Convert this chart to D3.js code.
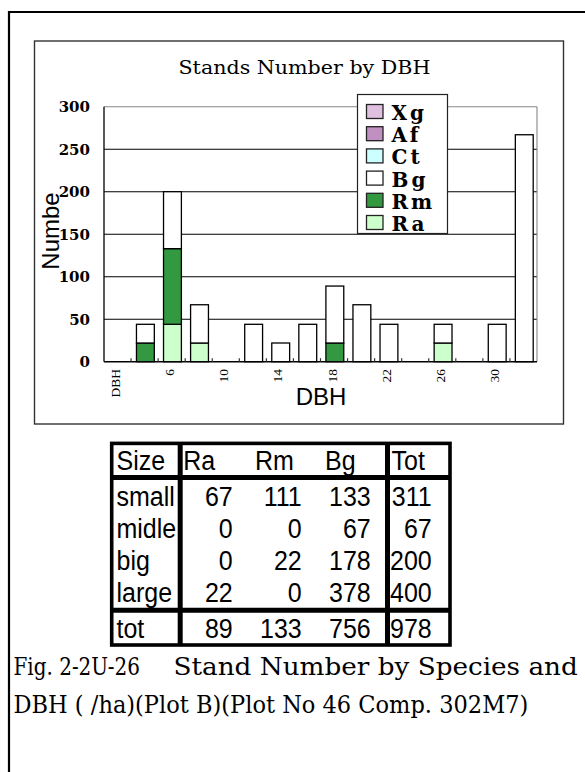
<!DOCTYPE html>
<html><head><meta charset="utf-8">
<script src="https://cdn.jsdelivr.net/npm/d3@7"></script>
<style>html,body{margin:0;padding:0;background:#fff;}svg{display:block;}</style>
</head><body>
<script>
// ---- data ----
const categories = ["DBH","4","6","8","10","12","14","16","18","20","22","24","26","28","30","32"];
const tickLabels = ["DBH","6","10","14","18","22","26","30"];
const seriesNames = ["Ra","Rm","Bg","Ct","Af","Xg"];
const Ra = [0,0,44,22,0,0,0,0,0,0,0,0,22,0,0,0];
const Rm = [0,22,89,0,0,0,0,0,22,0,0,0,0,0,0,0];
const Bg = [0,22,67,45,0,44,22,44,67,67,44,0,22,0,44,267];
const Ct = [0,0,0,0,0,0,0,0,0,0,0,0,0,0,0,0];
const Af = [0,0,0,0,0,0,0,0,0,0,0,0,0,0,0,0];
const Xg = [0,0,0,0,0,0,0,0,0,0,0,0,0,0,0,0];
const yTicks = [0,50,100,150,200,250,300];
const seriesColors = {Ra:"#ccffcc",Rm:"#339940",Bg:"#ffffff",Ct:"#ccffff",Af:"#c090c0",Xg:"#e0c0e0"};

const tableHeader = ["Size","Ra","Rm","Bg","Tot"];
const tableRowNames = ["small","midle","big","large"];
const tableRa = [67,0,0,22];
const tableRm = [111,0,22,0];
const tableBg = [133,67,178,378];
const tableTot = [311,67,200,400];
const totRow = ["tot",89,133,756,978];

const captionLine1a = "Fig. 2-2U-26";
const captionLine1b = "Stand Number by Species and";
const captionLine2 = "DBH ( /ha)(Plot B)(Plot No 46 Comp. 302M7)";

// ---- drawing ----
const W = 585, H = 772;
const svg = d3.select("body").append("svg").attr("width", W).attr("height", H);

// place text at (x,y) and stretch horizontally so it spans `width`
function fitText(sel, x, y, width, sy) {
  const node = sel.node();
  const natural = node.getComputedTextLength();
  const sx = width / natural;
  sel.attr("transform", `translate(${x},${y}) scale(${sx},${sy || 1})`);
  return sel;
}

// outer frame
svg.append("path").attr("d", "M9,772V12H585").attr("fill","none").attr("stroke","#000").attr("stroke-width",2.2);
// chart box
svg.append("rect").attr("x",34.5).attr("y",41).attr("width",529).attr("height",383)
  .attr("fill","#fff").attr("stroke","#333").attr("stroke-width",1.4);

const plot = {left:104, right:537, top:106.7, bottom:361.7};
const x = d3.scaleBand().domain(categories).range([plot.left, plot.right]).paddingInner(0.34).paddingOuter(0.17);
const y = d3.scaleLinear().domain([0,300]).range([plot.bottom, plot.top]);
const step = x.step();

// gridlines
svg.append("g").selectAll("line").data(yTicks.filter(t => t > 0)).join("line")
  .attr("x1", plot.left).attr("x2", plot.right)
  .attr("y1", d => y(d)).attr("y2", d => y(d))
  .attr("stroke", d => d === 300 ? "#888" : "#000").attr("stroke-width", 1.1);
// right border of plot
svg.append("line").attr("x1", plot.right).attr("x2", plot.right).attr("y1", y(300)).attr("y2", y(0))
  .attr("stroke","#888").attr("stroke-width",1.1);

// bars
const rows = categories.map((c,i) => ({cat:c, Ra:Ra[i], Rm:Rm[i], Bg:Bg[i], Ct:Ct[i], Af:Af[i], Xg:Xg[i]}));
const stacked = d3.stack().keys(seriesNames)(rows);
svg.append("g").selectAll("g").data(stacked).join("g")
  .attr("fill", d => seriesColors[d.key])
  .selectAll("rect").data(d => d.filter(s => s[1] - s[0] > 0)).join("rect")
  .attr("x", d => x(d.data.cat) + 0.8)
  .attr("width", x.bandwidth())
  .attr("y", d => y(d[1]))
  .attr("height", d => y(d[0]) - y(d[1]))
  .attr("stroke","#000").attr("stroke-width",1.3);

// axes lines
svg.append("line").attr("x1", plot.left).attr("x2", plot.left).attr("y1", y(300)).attr("y2", y(0))
  .attr("stroke","#000").attr("stroke-width",1.3);
svg.append("line").attr("x1", plot.left).attr("x2", plot.right).attr("y1", y(0)).attr("y2", y(0))
  .attr("stroke","#000").attr("stroke-width",1.5);
// x ticks at band boundaries
svg.append("g").selectAll("line").data(categories.slice(1)).join("line")
  .attr("x1", d => x(d) - step*0.17).attr("x2", d => x(d) - step*0.17)
  .attr("y1", y(0) - 3.5).attr("y2", y(0))
  .attr("stroke","#333").attr("stroke-width",1.2);

// y tick labels
svg.append("g").selectAll("text").data(yTicks).join("text")
  .attr("x", 90).attr("y", d => y(d)).attr("dy","0.36em")
  .attr("text-anchor","end")
  .attr("font-family","DejaVu Serif").attr("font-weight","bold").attr("font-size",15)
  .text(d => d);

// x tick labels (rotated)
svg.append("g").selectAll("text").data(tickLabels).join("text")
  .attr("transform", d => `translate(${x(d) + x.bandwidth()/2 + 2.5},369) rotate(-90)`)
  .attr("text-anchor","end")
  .attr("font-family","Liberation Serif").attr("font-size",13.5)
  .text(d => d);

// axis titles
svg.append("text").attr("transform","translate(58.5,231) rotate(-90)").attr("text-anchor","middle")
  .attr("font-family","Liberation Sans").attr("font-size",24).text("Numbe");
svg.append("text").attr("x",321).attr("y",405).attr("text-anchor","middle")
  .attr("font-family","Liberation Sans").attr("font-size",24).text("DBH");

// chart title
fitText(svg.append("text").attr("font-family","DejaVu Serif").attr("font-size",18.5)
  .text("Stands Number by DBH"), 178.5, 74, 252);

// legend
const legendKeys = seriesNames.slice().reverse();
const lg = svg.append("g");
lg.append("rect").attr("x",357.5).attr("y",94.5).attr("width",90).attr("height",139)
  .attr("fill","#fff").attr("stroke","#222").attr("stroke-width",1.2);
const li = lg.selectAll("g").data(legendKeys).join("g")
  .attr("transform",(d,i) => `translate(366.5,${104.5 + i*22.2})`);
li.append("rect").attr("width",16.5).attr("height",14).attr("fill", d => seriesColors[d])
  .attr("stroke","#222").attr("stroke-width",1.3);
li.append("text").attr("x",25).attr("y",15.5)
  .attr("font-family","DejaVu Serif").attr("font-weight","bold").attr("font-size",20)
  .attr("letter-spacing",3)
  .text(d => d);

// ---- table ----
const tg = svg.append("g");
const tableFont = {family:"Liberation Sans", size:25, sy:1.08};
function tableText(txt, xPos, yPos, anchor) {
  return tg.append("text")
    .attr("transform", `translate(${xPos},${yPos}) scale(1,${tableFont.sy})`)
    .attr("text-anchor", anchor || "start")
    .attr("font-family", tableFont.family).attr("font-size", tableFont.size).text(txt);
}
// borders
tg.append("rect").attr("x",111.7).attr("y",443.4).attr("width",338.3).attr("height",201.6)
  .attr("fill","none").attr("stroke","#000").attr("stroke-width",3.6);
[[180.2,443,180.2,645],[387.5,443,387.5,645],[112,477.5,450,477.5],[112,610.2,450,610.2]].forEach(l => {
  tg.append("line").attr("x1",l[0]).attr("y1",l[1]).attr("x2",l[2]).attr("y2",l[3])
    .attr("stroke","#000").attr("stroke-width",5);
});
const headerX = [116.5,183.3,255,325,391.5];
tableHeader.forEach((h,i) => tableText(h, headerX[i], 470));
const rowY = [506,538,570,602];
const colRight = [232.7,301.7,370.7,431.7];
tableRowNames.forEach((name,r) => {
  tableText(name, 116.5, rowY[r]);
  [tableRa[r],tableRm[r],tableBg[r],tableTot[r]].forEach((v,c) => tableText(v, colRight[c], rowY[r], "end"));
});
tableText(totRow[0], 116.5, 638);
totRow.slice(1).forEach((v,c) => tableText(v, colRight[c], 638, "end"));

// ---- caption ----
const capFont = {family:"DejaVu Serif", size:25};
fitText(svg.append("text").attr("font-family",capFont.family).attr("font-size",capFont.size).text(captionLine1a), 13.5, 675, 126.5);
fitText(svg.append("text").attr("font-family",capFont.family).attr("font-size",capFont.size).text(captionLine1b), 173.5, 675, 404.5);
fitText(svg.append("text").attr("font-family",capFont.family).attr("font-size",capFont.size).text(captionLine2), 13.5, 713, 515);
</script>
</body></html>
